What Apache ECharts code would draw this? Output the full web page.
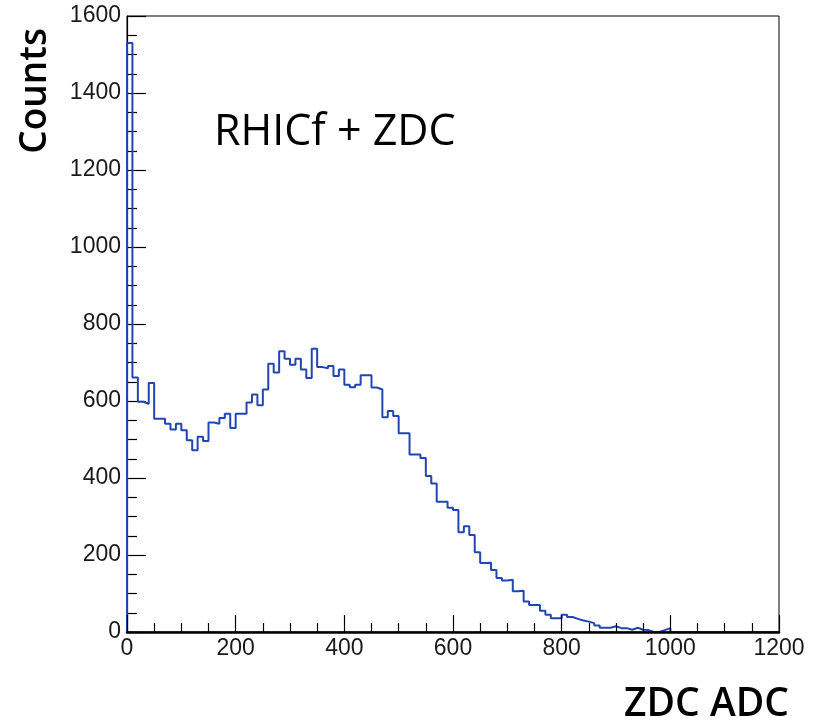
<!DOCTYPE html>
<html>
<head>
<meta charset="utf-8">
<script src="https://cdn.jsdelivr.net/npm/echarts@6/dist/echarts.min.js"></script>
<style>
  html, body { margin: 0; padding: 0; background: #fff; }
  #chart { width: 815px; height: 721px; }
</style>
</head>
<body>
<div id="chart"></div>
<script>
// ZDC ADC spectrum, 10-count-wide bins starting at 0
const binWidth = 10;
const counts = [
  1530, 661, 598, 593, 647, 554, 554, 541, 526, 541,
  524, 498, 472, 507, 496, 544, 541, 556, 567, 530,
  567, 567, 596, 617, 589, 630, 697, 674, 729, 710,
  694, 710, 682, 660, 736, 688, 685, 691, 665, 682,
  642, 636, 642, 667, 667, 635, 630, 558, 574, 561,
  516, 516, 461, 461, 452, 405, 386, 338, 338, 323,
  317, 259, 275, 252, 207, 179, 180, 161, 140, 134,
  136, 106, 107, 79, 70, 70, 55, 45, 36, 36,
  45, 39, 34, 30, 27, 23, 17, 11, 11, 15,
  10, 10, 6, 11, 6, 5, 0, 0, 5, 10,
  0, 0, 0, 0, 0, 0, 0, 0, 0, 0,
  0, 0, 0, 0, 0, 0, 0, 0, 0, 0
];
const xTicks = [0, 200, 400, 600, 800, 1000, 1200];
const yTicks = [0, 200, 400, 600, 800, 1000, 1200, 1400, 1600];
const xTitle = 'ZDC ADC';
const yTitle = 'Counts';
const label = 'RHICf + ZDC';

// Step outline: each point sits on a bin's left edge; the line starts and ends at zero
const outline = [[0, 0]];
counts.forEach((c, i) => outline.push([i * binWidth, c]));
outline.push([counts.length * binWidth, 0]);

const tickFont = {
  fontFamily: 'Liberation Sans, Arial, sans-serif', fontSize: 23, color: '#1a1a1a',
  formatter: v => String(v)
};

const chart = echarts.init(document.getElementById('chart'), null, { renderer: 'canvas' });
chart.setOption({
  animation: false,
  backgroundColor: '#ffffff',
  grid: {
    left: 127, right: 36, top: 16, bottom: 89,
    show: true, borderColor: '#000', borderWidth: 1, backgroundColor: 'transparent'
  },
  xAxis: {
    type: 'value',
    z: 5,
    min: xTicks[0], max: xTicks[xTicks.length - 1], interval: xTicks[1] - xTicks[0],
    axisLine: { show: true, onZero: false, lineStyle: { color: '#000', width: 2.5 } },
    axisTick: { show: true, inside: true, length: 17, lineStyle: { color: '#000', width: 1.2 } },
    minorTick: { show: true, splitNumber: 4, length: 9, lineStyle: { color: '#000', width: 1.2 } },
    splitLine: { show: false },
    axisLabel: Object.assign({ margin: 5 }, tickFont)
  },
  yAxis: {
    type: 'value',
    min: yTicks[0], max: yTicks[yTicks.length - 1], interval: yTicks[1] - yTicks[0],
    axisLine: { show: true, onZero: false, lineStyle: { color: '#000', width: 1.2 } },
    axisTick: { show: true, inside: true, length: 19, lineStyle: { color: '#000', width: 1.2 } },
    minorTick: { show: true, splitNumber: 4, length: 10, lineStyle: { color: '#000', width: 1.2 } },
    splitLine: { show: false },
    axisLabel: Object.assign({ margin: 6 }, tickFont)
  },
  series: [{
    type: 'line',
    step: 'end',
    data: outline,
    symbol: 'none',
    clip: true,
    lineStyle: { color: '#2146b4', width: 2 },
    z: 2
  }],
  graphic: [
    {
      type: 'text', left: 214, top: 111,
      style: { text: label, font: '400 43px "Open Sans", sans-serif', fill: '#000' }
    },
    {
      type: 'text', right: 26, top: 685,
      style: { text: xTitle, font: '600 39px "Open Sans", sans-serif', fill: '#000' }
    },
    {
      type: 'text', left: 17, top: 28, rotation: Math.PI / 2,
      style: { text: yTitle, font: '600 37px "Open Sans", sans-serif', fill: '#000' }
    }
  ]
});
</script>
</body>
</html>
